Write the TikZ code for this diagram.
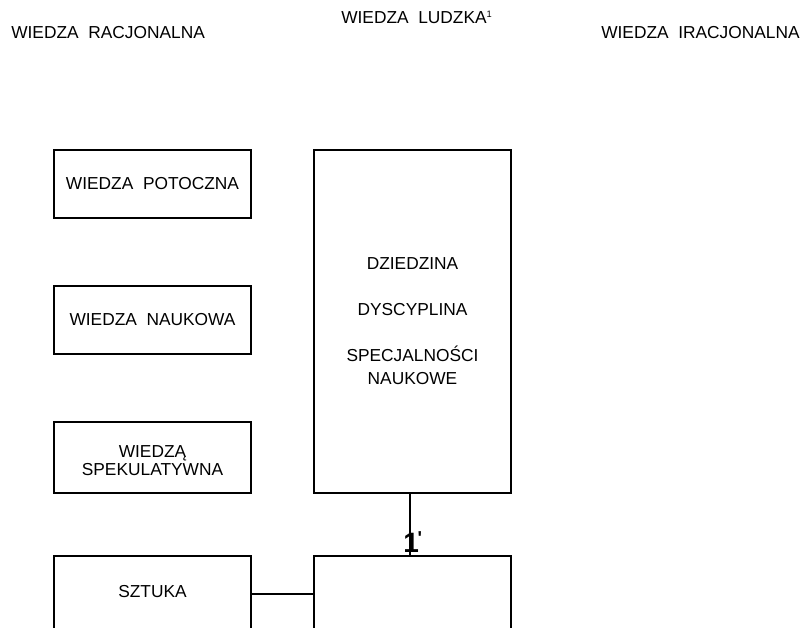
\documentclass[tikz,border=0pt]{standalone}
\usepackage{fontspec}
\setmainfont{Liberation Sans}
\begin{document}
\begin{tikzpicture}[x=0.75pt,y=-0.75pt,
  every node/.style={font=\fontsize{13}{17.25}\selectfont, inner sep=0pt},
  box/.style={draw, line width=1pt, minimum width=147.75pt},
  link/.style={line width=1pt}]
\useasboundingbox (0,0) rectangle (805,627);
\clip (0,0) rectangle (805,627);

% headings
\node[anchor=west] (rac) at (11,33) {WIEDZA\ \ RACJONALNA};
\node[anchor=west] (lud) at (341,17) {WIEDZA\ \ LUDZKA\textsuperscript{\fontsize{7}{7}\selectfont 1}};
\node[anchor=west] (irac) at (601,33) {WIEDZA\ \ IRACJONALNA};

% left column of boxes
\node[box, minimum height=51pt] (pot) at (152.5,184) {WIEDZA\ \ POTOCZNA};
\node[box, minimum height=51pt] (nauk) at (152.5,320) {WIEDZA\ \ NAUKOWA};
\node[box, minimum height=53.25pt] (spek) at (152.5,457.5) {};
\node[align=center, font=\fontsize{13}{13.5}\selectfont] (spekt) at (152.5,461) {WIEDZĄ\\SPEKULATYWNA};
\node[box, minimum height=75pt] (szt) at (152.5,606) {};
\node (sztt) at (152.5,592) {SZTUKA};

% right column
\node[box, minimum height=257.25pt, align=center] (big) at (412.5,321.5)
  {DZIEDZINA\\[17.25pt]DYSCYPLINA\\[17.25pt]SPECJALNOŚCI\\NAUKOWE};
\node[box, minimum height=75pt] (low) at (412.5,606) {};

% connectors
\coordinate (top) at (410,493);
\coordinate (bot) at (410,556);
\draw[link] (big.south -| top) -- (low.north -| bot);
\node[font=\fontsize{21}{21}\selectfont\bfseries, anchor=base west] (one) at (403,552)
  {1\kern-1pt\raisebox{6pt}{\fontsize{14}{14}\selectfont\bfseries\textquotesingle}};
\coordinate (lk) at (0,594);
\draw[link] (szt.east |- lk) -- (low.west |- lk);
\end{tikzpicture}
\end{document}
